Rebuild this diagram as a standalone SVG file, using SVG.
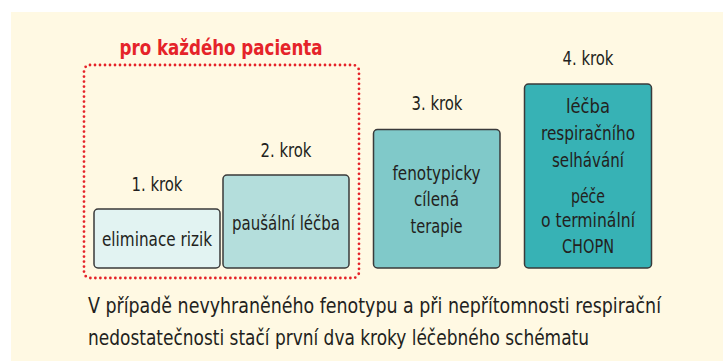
<svg xmlns="http://www.w3.org/2000/svg" width="723" height="361" viewBox="0 0 723 361">
<style>
text{font-family:"DejaVu Sans Condensed","Liberation Sans Narrow","Liberation Sans",Arial,sans-serif;font-stretch:condensed;fill:#231f20;text-anchor:middle}
.box{stroke:#3a3a3a;stroke-width:1.5}
.k{font-size:19.5px}
.b{font-size:19.5px}
.f{font-size:22px;text-anchor:start}
.red{fill:#e52329;font-weight:bold;font-size:21px}
</style>
<rect x="0" y="0" width="723" height="361" fill="#ffffff"/>
<rect x="11" y="12" width="712" height="349" fill="#fff9e3"/>
<g id="group-pro-kazdeho">
<rect x="84" y="65" width="275" height="213" rx="6" fill="none" stroke="#e52329" stroke-width="2.8" stroke-dasharray="0 5" stroke-linecap="round"/>
<text class="red" x="221" y="55" textLength="203" lengthAdjust="spacingAndGlyphs">pro každého pacienta</text>
</g>
<g id="step1">
<rect class="box" x="94" y="209" width="126" height="59" rx="4" fill="#e2f3f2"/>
<text class="k" x="157" y="191" textLength="51" lengthAdjust="spacingAndGlyphs">1. krok</text>
<text class="b" x="157" y="246" textLength="110" lengthAdjust="spacingAndGlyphs">eliminace rizik</text>
</g>
<g id="step2">
<rect class="box" x="223" y="175" width="126" height="93" rx="4" fill="#b4dedc"/>
<text class="k" x="286" y="157" textLength="51" lengthAdjust="spacingAndGlyphs">2. krok</text>
<text class="b" x="286" y="230" textLength="108" lengthAdjust="spacingAndGlyphs">paušální léčba</text>
</g>
<g id="step3">
<rect class="box" x="373.5" y="129.5" width="126.5" height="138.5" rx="4" fill="#80c9c9"/>
<text class="k" x="437" y="110" textLength="51" lengthAdjust="spacingAndGlyphs">3. krok</text>
<text class="b" x="436.5" y="180" textLength="88" lengthAdjust="spacingAndGlyphs">fenotypicky</text>
<text class="b" x="436.5" y="206" textLength="45" lengthAdjust="spacingAndGlyphs">cílená</text>
<text class="b" x="436.5" y="233" textLength="52" lengthAdjust="spacingAndGlyphs">terapie</text>
</g>
<g id="step4">
<rect class="box" x="524.5" y="84" width="127" height="184" rx="4" fill="#37b2b5"/>
<text class="k" x="588" y="65" textLength="51" lengthAdjust="spacingAndGlyphs">4. krok</text>
<text class="b" x="588" y="113" textLength="44" lengthAdjust="spacingAndGlyphs">léčba</text>
<text class="b" x="588" y="140" textLength="94" lengthAdjust="spacingAndGlyphs">respiračního</text>
<text class="b" x="588" y="167" textLength="72" lengthAdjust="spacingAndGlyphs">selhávání</text>
<text class="b" x="588" y="203" textLength="34" lengthAdjust="spacingAndGlyphs">péče</text>
<text class="b" x="588" y="227" textLength="94" lengthAdjust="spacingAndGlyphs">o terminální</text>
<text class="b" x="588" y="253" textLength="52" lengthAdjust="spacingAndGlyphs">CHOPN</text>
</g>
<g id="connectors"/>
<g id="footnote">
<text class="f" x="88" y="313" textLength="573" lengthAdjust="spacingAndGlyphs">V případě nevyhraněného fenotypu a při nepřítomnosti respirační</text>
<text class="f" x="88" y="345" textLength="501" lengthAdjust="spacingAndGlyphs">nedostatečnosti stačí první dva kroky léčebného schématu</text>
</g>
</svg>
